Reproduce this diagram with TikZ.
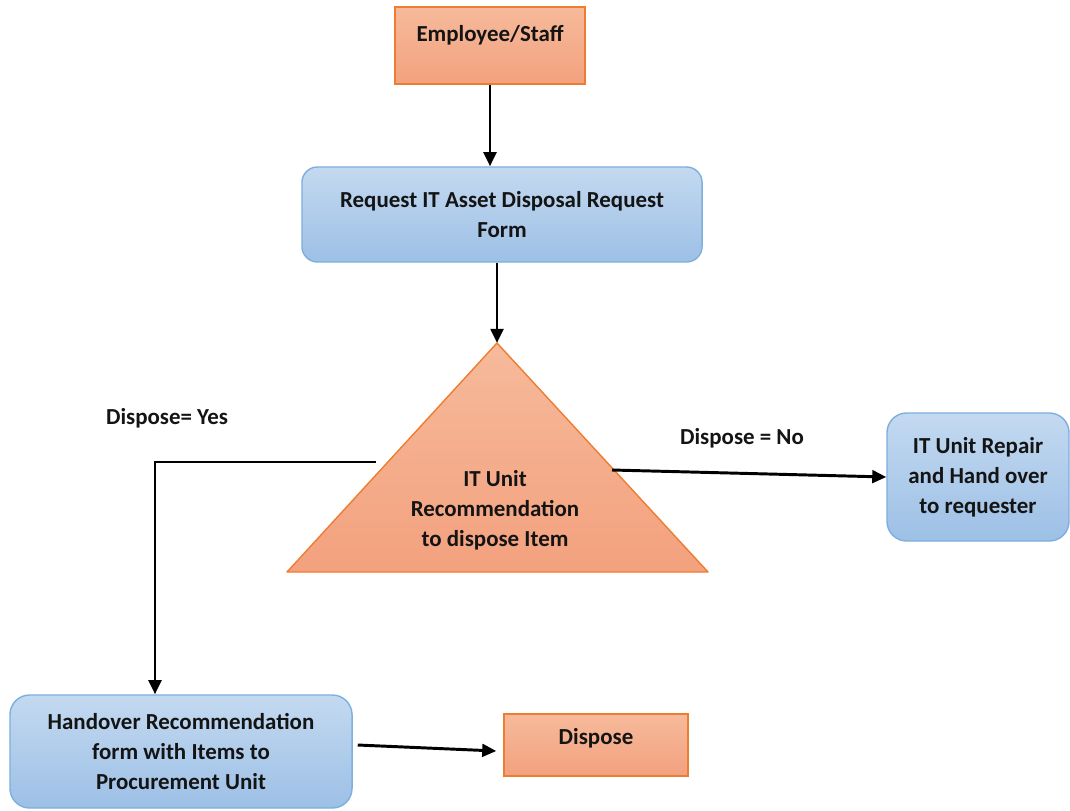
\documentclass[tikz,border=0pt]{standalone}
\usepackage{fontspec}
\setmainfont{Carlito}
\usetikzlibrary{positioning, arrows.meta, calc}

\definecolor{orTop}{HTML}{F6BA9B}
\definecolor{orBot}{HTML}{F3A17E}
\definecolor{orLine}{HTML}{ED7D31}
\definecolor{blTop}{HTML}{C3D9F0}
\definecolor{blBot}{HTML}{9DC0E6}
\definecolor{blLine}{HTML}{7EAFDE}

\begin{document}
\begin{tikzpicture}[
        x=0.025cm, y=-0.025cm,                 % one unit = one pixel of the drawing
        every node/.style={font=\bfseries\fontsize{16.3}{21.5}\selectfont, text=black!92},
        % boxes
        orbox/.style={draw=orLine, line width=1pt, top color=orTop, bottom color=orBot,
                      inner sep=0pt, anchor=base},
        blbox/.style={draw=blLine, line width=1pt, top color=blTop, bottom color=blBot,
                      rounded corners=11pt, align=center},
        % connectors
        arr/.style={line width=2.1pt, -{Triangle[length=10pt,width=9pt]}},
        lbl/.style={inner sep=0pt}
    ]

    \useasboundingbox (0,0) rectangle (1070,810);

    % orange boxes, text near the top
    \node[orbox, minimum width=4.75cm, text height=0.85cm, text depth=1.075cm]
        (emp) at (490,41) {Employee/Staff};
    \node[orbox, minimum width=4.6cm, text height=0.75cm, text depth=0.8cm]
        (disp) at (596,744) {Dispose};

    % blue boxes
    \node[blbox, minimum width=10cm, minimum height=2.375cm]
        (req) at (502,214.5) {Request IT Asset Disposal Request\\Form};
    \node[blbox, minimum width=4.55cm, minimum height=3.2cm, rounded corners=14pt]
        (rep) at (978,477) {IT Unit Repair\\and Hand over\\to requester};
    \node[blbox, minimum width=8.55cm, minimum height=2.825cm, rounded corners=14pt]
        (hand) at (181,751.5) {Handover Recommendation\\form with Items to\\Procurement Unit};

    % decision triangle
    \coordinate (apex) at (497,343);
    \coordinate (bl) at (287,572);
    \coordinate (br) at (708,572);
    \shade[top color=orTop, bottom color=orBot] (apex) -- (bl) -- (br) -- cycle;
    \draw[orLine, line width=1pt, line join=round] (apex) -- (bl) -- (br) -- cycle;
    \node[align=center] (rec) at (495,510) {IT Unit\\Recommendation\\to dispose Item};

    \coordinate (yesfrom) at (376,462);
    \coordinate (yescorner) at (155,462);
    \coordinate (nofrom) at (612,470);

    % labels
    \node[lbl] (lyes) at (167,418) {Dispose= Yes};
    \node[lbl] (lno) at (742,438) {Dispose = No};

    % connectors
    \draw[arr] (emp.south) -- (emp.south |- req.north);
    \draw[arr] (req.south -| apex) -- (apex);
    \draw[arr] (yesfrom) -- (yescorner) -- (hand.north -| yescorner);
    \draw[arr] (nofrom) -- (rep.west);
    \draw[arr] ($(hand.east)+(5,-6.5)$) -- ($(disp.west)+(-7,6)$);
    \end{tikzpicture}
\end{document}
